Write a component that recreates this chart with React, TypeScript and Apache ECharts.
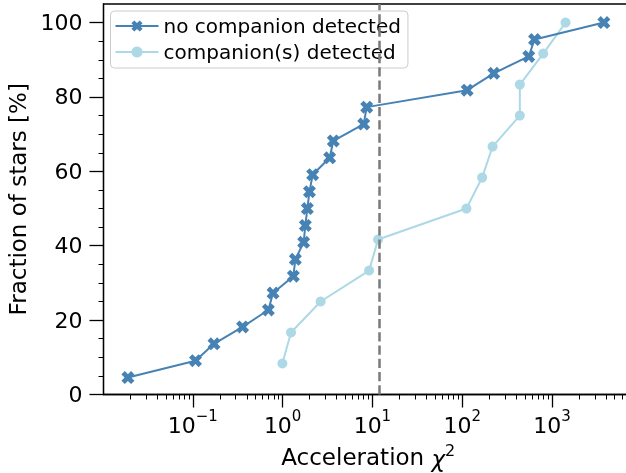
import React, { useEffect, useRef } from "react";
import * as echarts from "echarts";

const noCompX = [0.0189, 0.107, 0.172, 0.358, 0.693, 0.782, 1.316, 1.386, 1.715, 1.79, 1.885, 1.99, 2.16, 3.34, 3.67, 8.0, 8.64, 113.7, 225, 552, 640, 3790];
const noCompY = [4.55, 9.09, 13.64, 18.18, 22.73, 27.27, 31.82, 36.36, 40.91, 45.45, 50.0, 54.55, 59.09, 63.64, 68.18, 72.73, 77.27, 81.82, 86.36, 90.91, 95.45, 100];
const compX = [0.993, 1.24, 2.65, 9.19, 11.57, 111.6, 167, 218, 439, 439, 800, 1418];
const compY = [8.33, 16.67, 25.0, 33.33, 41.67, 50.0, 58.33, 66.67, 75.0, 83.33, 91.67, 100];
const threshold = 11.97;
const xMajorTicks = [0.1, 1, 10, 100, 1000];
const yMajorTicks = [0, 20, 40, 60, 80, 100];
const yMinorTicks = [5, 10, 15, 25, 30, 35, 45, 50, 55, 65, 70, 75, 85, 90, 95];
const seriesNames = ["no companion detected", "companion(s) detected"];

const X_MIN = 0.0101;
const X_MAX = 8000;

const xMinorTicks: number[] = [];
for (let k = -2; k <= 3; k++) {
  for (let m = 2; m <= 9; m++) {
    const v = m * Math.pow(10, k);
    if (v > X_MIN && v < X_MAX) xMinorTicks.push(v);
  }
}

const FONT = "DejaVu Sans";
const X_SYMBOL = "path://M0,2.6 L2.6,0 L5,2.4 L7.4,0 L10,2.6 L7.6,5 L10,7.4 L7.4,10 L5,7.6 L2.6,10 L0,7.4 L2.4,5 Z";

export default function App() {
  const ref = useRef<HTMLDivElement>(null);
  useEffect(() => {
    if (!ref.current) return;
    const chart = echarts.init(ref.current, null, { renderer: "svg" });
    chart.setOption({
      animation: false,
      textStyle: { fontFamily: FONT },
      grid: {
        left: 103.5,
        top: 4,
        width: 529.5,
        height: 390.5,
        outerBoundsMode: "none",
        containLabel: false,
        show: true,
        borderColor: "#000",
        borderWidth: 1.3,
        backgroundColor: "transparent",
      },
      legend: {
        orient: "vertical",
        left: 110.5,
        top: 11,
        padding: [4, 7, 5, 4],
        itemWidth: 43,
        itemHeight: 14,
        itemGap: 4,
        backgroundColor: "rgba(255,255,255,0.8)",
        borderColor: "#cccccc",
        borderWidth: 1,
        borderRadius: 4,
        textStyle: { fontFamily: FONT, fontSize: 20, color: "#000", lineHeight: 22 },
        data: seriesNames,
      },
      xAxis: [
        {
          type: "log",
          logBase: 10,
          min: X_MIN,
          max: X_MAX,
          name: "Acceleration {i|χ}{s|2}",
          nameLocation: "middle",
          nameGap: 48,
          nameTextStyle: {
            fontFamily: FONT,
            fontSize: 23,
            color: "#000",
            rich: {
              i: { fontFamily: FONT, fontSize: 23, fontStyle: "italic", verticalAlign: "bottom", lineHeight: 28 },
              s: { fontFamily: FONT, fontSize: 16, verticalAlign: "top", lineHeight: 28 },
            },
          },
          axisLine: { show: true, lineStyle: { color: "#000", width: 1.3 } },
          axisTick: { show: true, length: 13, lineStyle: { color: "#000", width: 1.3 }, customValues: xMajorTicks },
          axisLabel: {
            customValues: xMajorTicks,
            margin: 14,
            color: "#000",
            fontFamily: FONT,
            formatter: (v: number) => {
              const e = String(Math.round(Math.log10(v))).replace("-", "−");
              return "{b|10}{s|" + e + "}";
            },
            rich: {
              b: { fontFamily: FONT, fontSize: 22, color: "#000", verticalAlign: "bottom", lineHeight: 28 },
              s: { fontFamily: FONT, fontSize: 15, color: "#000", verticalAlign: "top", lineHeight: 28 },
            },
          },
          splitLine: { show: false },
        },
        {
          type: "log",
          logBase: 10,
          min: X_MIN,
          max: X_MAX,
          position: "bottom",
          axisLine: { show: false },
          axisTick: { show: true, length: 5, lineStyle: { color: "#000", width: 1 }, customValues: xMinorTicks },
          axisLabel: { show: false },
          splitLine: { show: false },
        },
      ],
      yAxis: [
        {
          type: "value",
          min: 0,
          max: 105,
          name: "Fraction of stars [%]",
          nameLocation: "middle",
          nameGap: 70,
          nameTextStyle: { fontFamily: FONT, fontSize: 23, color: "#000" },
          axisLine: { show: true, lineStyle: { color: "#000", width: 1.3 } },
          axisTick: { show: true, length: 14, lineStyle: { color: "#000", width: 1.3 }, customValues: yMajorTicks },
          axisLabel: { customValues: yMajorTicks, margin: 21, color: "#000", fontFamily: FONT, fontSize: 22 },
          splitLine: { show: false },
        },
        {
          type: "value",
          min: 0,
          max: 105,
          position: "left",
          axisLine: { show: false },
          axisTick: { show: true, length: 5, lineStyle: { color: "#000", width: 1 }, customValues: yMinorTicks },
          axisLabel: { show: false },
          splitLine: { show: false },
        },
      ],
      series: [
        {
          name: seriesNames[0],
          type: "line",
          xAxisIndex: 0,
          yAxisIndex: 0,
          data: noCompX.map((x, i) => [x, noCompY[i]]),
          symbol: X_SYMBOL,
          symbolSize: 13,
          color: "#4682b4",
          itemStyle: { color: "#4682b4" },
          lineStyle: { color: "#4682b4", width: 2 },
          z: 3,
          markLine: {
            silent: true,
            symbol: "none",
            label: { show: false },
            lineStyle: { color: "#7a7a7a", width: 2.5, type: [9.25, 4] },
            data: [{ xAxis: threshold }],
          },
        },
        {
          name: seriesNames[1],
          type: "line",
          xAxisIndex: 0,
          yAxisIndex: 0,
          data: compX.map((x, i) => [x, compY[i]]),
          symbol: "circle",
          symbolSize: 10,
          color: "#add8e6",
          itemStyle: { color: "#add8e6" },
          lineStyle: { color: "#add8e6", width: 2 },
          z: 2,
        },
      ],
    });
    return () => chart.dispose();
  }, []);
  return (
    <div
      ref={ref}
      style={{ position: "fixed", left: 0, top: 0, width: 626, height: 473, overflow: "hidden" }}
    />
  );
}
